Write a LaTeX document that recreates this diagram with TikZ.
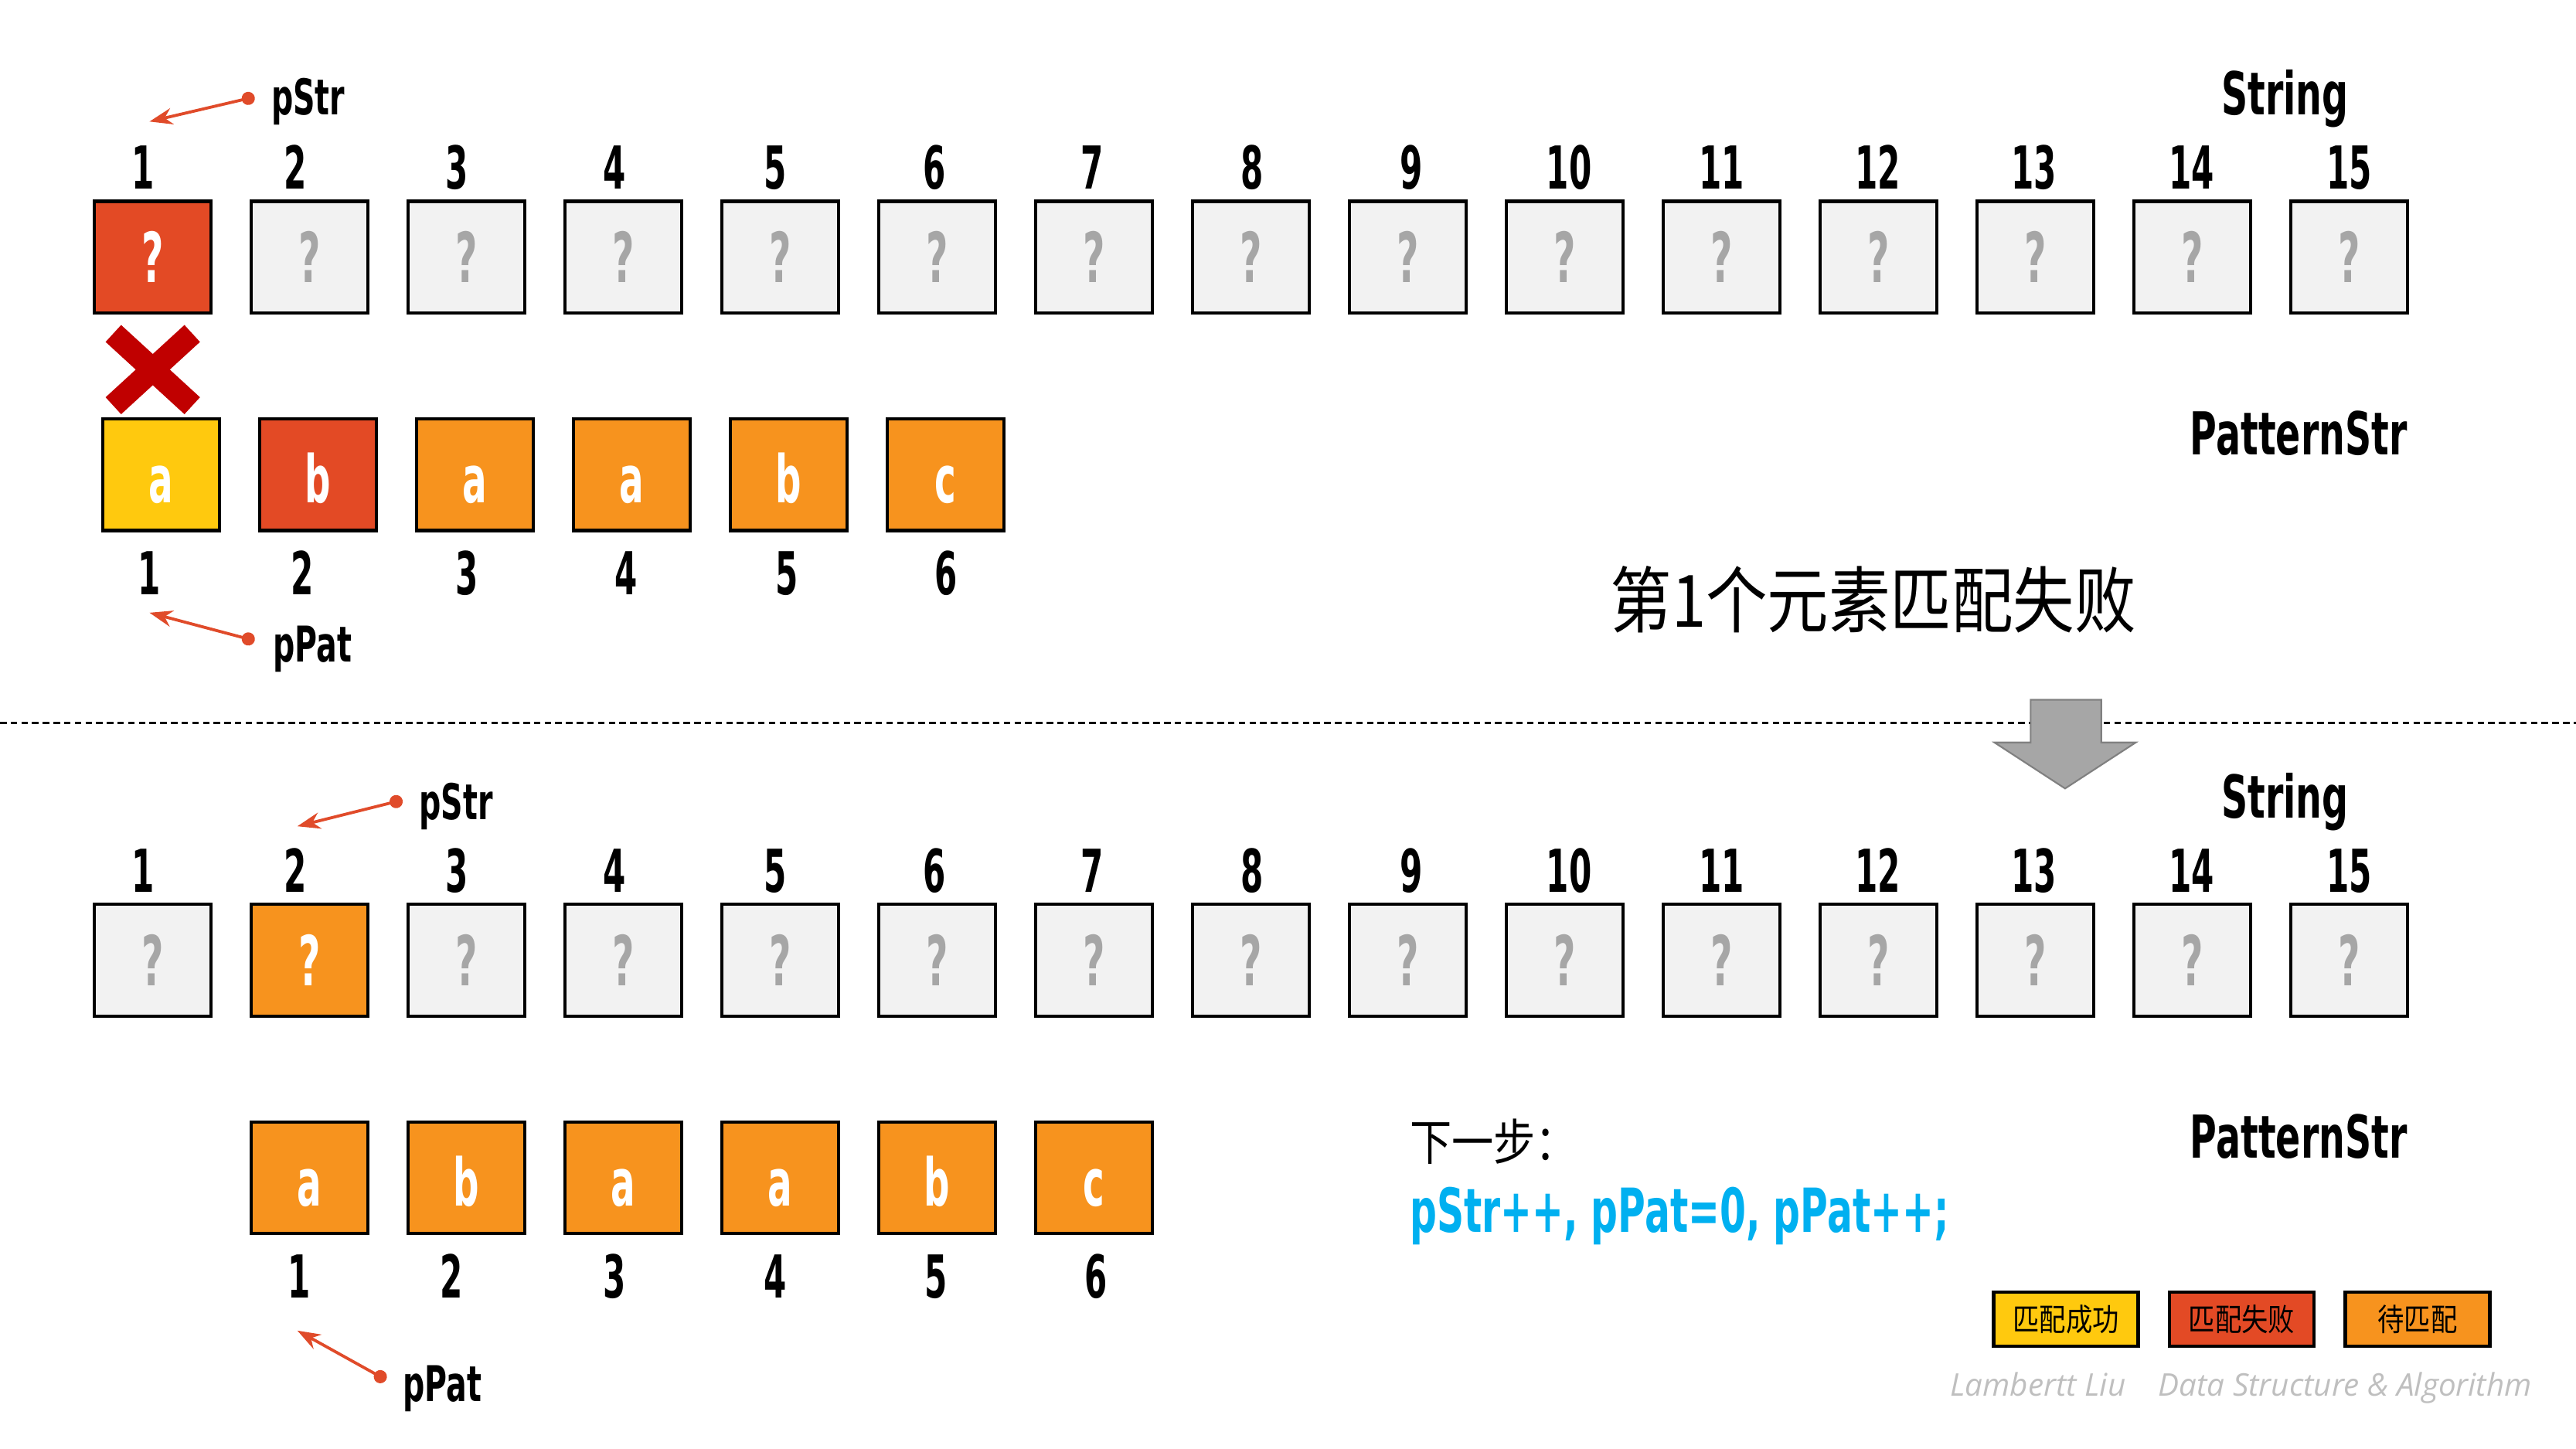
\documentclass[tikz,border=0pt]{standalone}
\usepackage{fontspec}
\usetikzlibrary{arrows.meta}
\newfontfamily\nf[FakeStretch=0.55]{DejaVu Sans}
\newfontfamily\lf[FakeStretch=0.62]{DejaVu Sans}
\newfontfamily\cjk[FakeStretch=0.85]{Noto Sans CJK SC}
\newfontfamily\ft{Open Sans}
\definecolor{failred}{HTML}{E34A25}
\definecolor{okyel}{HTML}{FFC90E}
\definecolor{waitor}{HTML}{F7931E}
\definecolor{boxgray}{HTML}{F2F2F2}
\definecolor{qgray}{HTML}{A6A6A6}
\definecolor{xred}{HTML}{C00000}
\definecolor{ptr}{HTML}{E04B2A}
\definecolor{cyantext}{HTML}{00B0F0}
\definecolor{arrowgray}{HTML}{A6A6A6}
\begin{document}
\begin{tikzpicture}[x=1pt,y=-1pt,
 cell/.style={draw=black,line width=2pt,minimum width=71pt,minimum height=68pt,inner sep=0pt,text height=34pt,text depth=0pt,font=\nf\bfseries\fontsize{40}{40}\selectfont},
 qcell/.style={cell,text height=31pt,font=\nf\bfseries\fontsize{42}{42}\selectfont},
 strcell/.style={qcell,fill=boxgray,text=qgray},
 failq/.style={qcell,fill=failred,text=white},
 waitq/.style={qcell,fill=waitor,text=white},
 failcell/.style={cell,fill=failred,text=white},
 okcell/.style={cell,fill=okyel,text=white},
 waitcell/.style={cell,fill=waitor,text=white},
 idx/.style={anchor=base,inner sep=0pt,font=\nf\bfseries\fontsize{36}{36}\selectfont},
 lbl/.style={anchor=base west,inner sep=0pt,font=\lf\bfseries\fontsize{36}{36}\selectfont},
 ptrlbl/.style={anchor=base west,inner sep=0pt,font=\lf\bfseries\fontsize{30}{30}\selectfont},
 ptrarrow/.style={draw=ptr,line width=1.8pt,{Circle[length=8pt]}-{Stealth[length=14pt,width=10pt]}},
 legend/.style={draw=black,line width=2pt,minimum width=88pt,minimum height=33pt,inner sep=0pt,font=\cjk\fontsize{19}{19}\selectfont}
]
\useasboundingbox (0,0) rectangle (1568,882);

% ===== top half =====
\node[failq] (s1) at (93,156.5) {?};
\foreach \i in {2,...,15}{
  \pgfmathsetmacro\L{57+(\i-1)*95.5}
  \node[strcell] (s\i) at ({\L+36},156.5) {?};
}
\foreach \i/\x in {1/87,2/180,3/278,4/374,5/472,6/569,7/665,8/762,9/859,10/955,11/1048,12/1143,13/1238,14/1334,15/1430}{
  \node[idx] (n\i) at (\x,115) {\i};
}
\node[lbl] (strlbl) at (1352,70) {String};

\node[okcell] (p1) at (98,289) {a};
\node[failcell] (p2) at (193.5,289) {b};
\node[waitcell] (p3) at (289,289) {a};
\node[waitcell] (p4) at (384.5,289) {a};
\node[waitcell] (p5) at (480,289) {b};
\node[waitcell] (p6) at (575.5,289) {c};
\foreach \i/\x in {1/91,2/184,3/284,4/381,5/479,6/576}{
  \node[idx] (m\i) at (\x,362) {\i};
}
\node[lbl] (patlbl) at (1333,277) {PatternStr};

% cross
\draw[xred,line width=14pt] (69,203) -- (117,247) (69,247) -- (117,203);

% pointers
\coordinate (ps0) at (155,59);
\coordinate (ps1) at (91,74);
\draw[ptrarrow] (ps0) -- (ps1);
\node[ptrlbl] (pstrlbl) at (165,70) {pStr};
\coordinate (pp0) at (155,390);
\coordinate (pp1) at (91,373);
\draw[ptrarrow] (pp0) -- (pp1);
\node[ptrlbl] (ppatlbl) at (166,403) {pPat};

\node[anchor=west,inner sep=0pt,font=\cjk\fontsize{44}{44}\selectfont] (title) at (980,365) {第1个元素匹配失败};

% separator
\draw[black,line width=1.2pt,dash pattern=on 4pt off 2.5pt] (0,440) -- (1568,440);
\draw[draw=gray,line width=1pt,fill=arrowgray] (1236,426) -- (1279,426) -- (1279,452) -- (1300,452) -- (1257,480) -- (1214,452) -- (1236,452) -- cycle;

% ===== bottom half =====
\foreach \i/\x in {1/87,2/180,3/278,4/374,5/472,6/569,7/665,8/762,9/859,10/955,11/1048,12/1143,13/1238,14/1334,15/1430}{
  \node[idx] (bn\i) at (\x,543) {\i};
}
\foreach \i in {1,3,4,5,6,7,8,9,10,11,12,13,14,15}{
  \pgfmathsetmacro\L{57+(\i-1)*95.5}
  \node[strcell] (t\i) at ({\L+36},584.5) {?};
}
\node[waitq] (t2) at (188.5,584.5) {?};
\node[lbl] (strlbl2) at (1352,498) {String};

\node[waitcell] (q1) at (188.5,717) {a};
\node[waitcell] (q2) at (284,717) {b};
\node[waitcell] (q3) at (379.5,717) {a};
\node[waitcell] (q4) at (475,717) {a};
\node[waitcell] (q5) at (570.5,717) {b};
\node[waitcell] (q6) at (666,717) {c};
\foreach \i/\x in {1/182,2/275,3/374,4/472,5/570,6/667}{
  \node[idx] (r\i) at (\x,790) {\i};
}
\node[lbl] (patlbl2) at (1333,705) {PatternStr};

\coordinate (bps0) at (245,487);
\coordinate (bps1) at (181,503);
\draw[ptrarrow] (bps0) -- (bps1);
\node[ptrlbl] (bpstrlbl) at (255,499) {pStr};
\coordinate (bpp0) at (235,840);
\coordinate (bpp1) at (181,810);
\draw[ptrarrow] (bpp0) -- (bpp1);
\node[ptrlbl] (bppatlbl) at (245,853) {pPat};

\node[anchor=west,inner sep=0pt,font=\cjk\fontsize{30}{30}\selectfont] (next) at (858,695) {下一步：};
\node[anchor=base west,inner sep=0pt,text=cyantext,font=\lf\bfseries\fontsize{37}{37}\selectfont] (code) at (858,750) {pStr++, pPat=0, pPat++;};

% legend
\node[legend,fill=okyel] (lg1) at (1257.5,803) {匹配成功};
\node[legend,fill=failred] (lg2) at (1364.5,803) {匹配失败};
\node[legend,fill=waitor] (lg3) at (1471.5,803) {待匹配};

\node[anchor=base west,inner sep=0pt,text=black!25,font=\ft\itshape\fontsize{19}{19}\selectfont] (foot) at (1187,850) {Lambertt Liu\hspace{20pt}Data Structure \& Algorithm};
\end{tikzpicture}
\end{document}
